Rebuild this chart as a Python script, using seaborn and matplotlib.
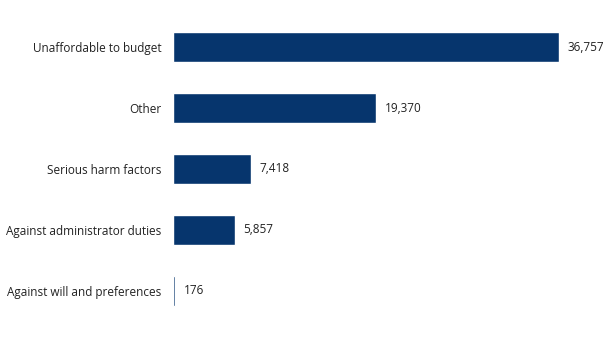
import matplotlib
matplotlib.use("Agg")
import matplotlib.pyplot as plt
import seaborn as sns
import pandas as pd

categories = ["Unaffordable to budget", "Other", "Serious harm factors",
              "Against administrator duties", "Against will and preferences"]
values = [36757, 19370, 7418, 5857, 176]
value_labels = ["36,757", "19,370", "7,418", "5,857", "176"]

sns.set_theme(style="white")
plt.rcParams['font.family'] = ['Open Sans', 'DejaVu Sans']

df = pd.DataFrame({"category": categories, "value": values})

fig = plt.figure(figsize=(6.10, 3.39), dpi=100)
ax = fig.add_axes([0.284, 0.052, 0.632, 0.899])
sns.barplot(data=df, x="value", y="category", color="#06356d", saturation=1,
            width=0.49, ax=ax, orient="h")
ax.set_xlim(0, max(values))
ax.set_ylim(4.5, -0.5)
for i, (v, lab) in enumerate(zip(values, value_labels)):
    ax.annotate(lab, (v, i), xytext=(6, 0), textcoords="offset points",
                va="center", ha="left", fontsize=8.5, color="#222222")
ax.set_xlabel("")
ax.set_ylabel("")
ax.set_xticks([])
ax.tick_params(axis="y", length=0, pad=8.5, labelsize=8.5, labelcolor="#222222")
for s in ax.spines.values():
    s.set_visible(False)
fig.savefig("out.png", dpi=100)
